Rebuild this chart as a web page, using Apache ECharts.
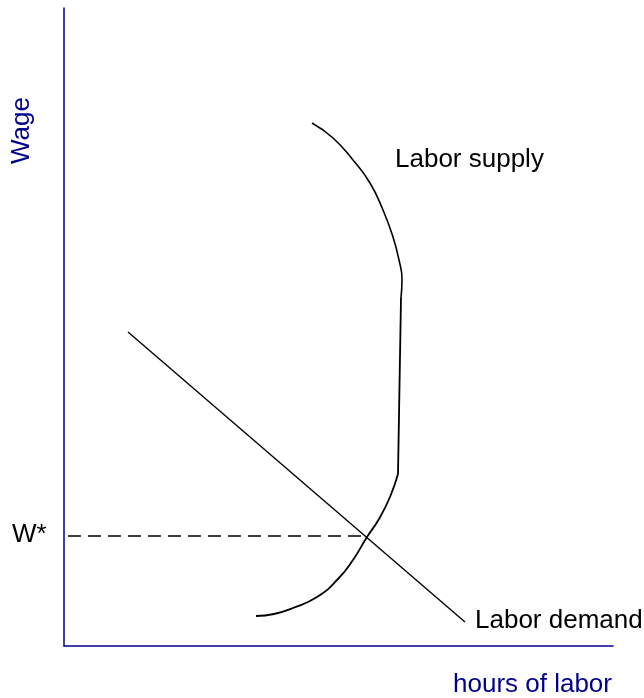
<!DOCTYPE html>
<html>
<head>
<meta charset="utf-8">
<script src="https://cdn.jsdelivr.net/npm/echarts@6/dist/echarts.min.js"></script>
<style>
  html, body { margin: 0; padding: 0; background: #fff; }
  #chart { width: 644px; height: 698px; }
</style>
</head>
<body>
<div id="chart"></div>
<script>
// points (x = hours, y = wage, arbitrary units)
const supplyUpper = [[248, 523], [269, 508], [289, 486], [306, 463], [319, 436], [329, 409], [335, 386], [338, 367], [337, 348]];
const supplyMiddle = [[337, 348], [334, 172]];
const supplyLower = [[334, 172], [326, 149], [315, 127], [303, 109], [289, 86], [273, 66], [253, 49], [229, 38], [210, 32], [192, 30]];
const demand = [[64, 314], [401, 24]];
const wStar = [[4, 110], [303, 110]];

const axisColor = '#00008b';
const font = 'Liberation Sans, Arial, sans-serif';

const chart = echarts.init(document.getElementById('chart'));

const curve = (data, smooth, width) => ({
    type: 'line',
    data: data,
    smooth: smooth,
    symbol: 'none',
    silent: true,
    lineStyle: { color: '#000', width: width }
});

chart.setOption({
    animation: false,
    grid: { left: 64, top: 8, width: 549, height: 638 },
    xAxis: {
        type: 'value', min: 0, max: 549,
        axisLine: { lineStyle: { color: axisColor, width: 1.5 } },
        axisTick: { show: false }, axisLabel: { show: false }, splitLine: { show: false }
    },
    yAxis: {
        type: 'value', min: 0, max: 638,
        axisLine: { show: true, lineStyle: { color: axisColor, width: 1.5 } },
        axisTick: { show: false }, axisLabel: { show: false }, splitLine: { show: false }
    },
    series: [
        curve(supplyUpper, 0.5, 1.6),
        curve(supplyMiddle, false, 1.8),
        curve(supplyLower, 0.5, 1.8),
        curve(demand, false, 1.4),
        {
            type: 'line', data: wStar, symbol: 'none', silent: true,
            lineStyle: { color: '#000', width: 1.4, type: [13, 7] }
        }
    ],
    graphic: [
        { type: 'text', left: 9, top: 97, rotation: Math.PI / 2,
          style: { text: 'Wage', fill: axisColor, font: '26px ' + font } },
        { type: 'text', left: 453, top: 672,
          style: { text: 'hours of labor', fill: axisColor, font: '26px ' + font } },
        { type: 'text', left: 12, top: 522,
          style: { text: 'W*', fill: '#000', font: '26px ' + font } },
        { type: 'text', left: 395, top: 147,
          style: { text: 'Labor supply', fill: '#000', font: '26px ' + font } },
        { type: 'text', left: 475, top: 608,
          style: { text: 'Labor demand', fill: '#000', font: '26px ' + font } }
    ]
});
</script>
</body>
</html>
